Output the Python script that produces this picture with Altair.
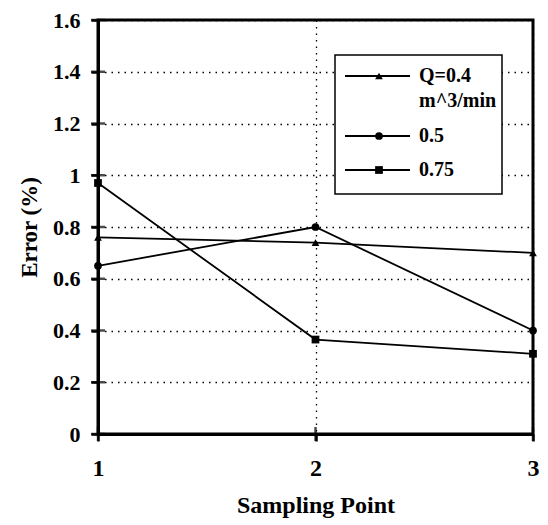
import altair as alt
import pandas as pd

# ---- data ----
sampling_point = [1, 2, 3]
q_040 = [0.76, 0.74, 0.70]
q_050 = [0.65, 0.80, 0.40]
q_075 = [0.97, 0.365, 0.31]
series_names = ["Q=0.4 m^3/min", "0.5", "0.75"]
series_shapes = ["triangle-up", "circle", "square"]
y_ticks = [0, 0.2, 0.4, 0.6, 0.8, 1.0, 1.2, 1.4, 1.6]
x_ticks = [1.0, 2.0, 3.0]

rows = []
for name, vals in zip(series_names, [q_040, q_050, q_075]):
    for xv, yv in zip(sampling_point, vals):
        rows.append({"x": float(xv), "y": yv, "series": name})
df = pd.DataFrame(rows)

FONT = "Liberation Serif"
W, H = 435, 414

x_axis = alt.Axis(tickCount=2, title="Sampling Point",
                  labelFont=FONT, labelFontWeight="bold", labelFontSize=24,
                  titleFont=FONT, titleFontWeight="bold", titleFontSize=24,
                  labelPadding=15, titlePadding=13, tickSize=7, tickWidth=2.5,
                  labelOverlap=False, labelFlush=False, labelBound=False,
                  tickColor="black", domainColor="black", domainWidth=3,
                  labelColor="black", titleColor="black",
                  grid=True, gridColor="black", gridDash=[1.5, 5], gridWidth=1.3)
y_axis = alt.Axis(values=y_ticks, format="~g", title="Error (%)",
                  labelFont=FONT, labelFontWeight="bold", labelFontSize=22,
                  titleFont=FONT, titleFontWeight="bold", titleFontSize=23,
                  labelPadding=11, titlePadding=11, tickSize=7, tickWidth=2.5,
                  labelOverlap=False, labelFlush=False,
                  tickColor="black", domainColor="black", domainWidth=3,
                  labelColor="black", titleColor="black",
                  grid=True, gridColor="black", gridDash=[1.5, 5], gridWidth=1.3)
x_scale = alt.Scale(domain=[1, 3], nice=False, zero=False)
y_scale = alt.Scale(domain=[0, 1.6], nice=False)

shape_scale = alt.Scale(domain=series_names, range=series_shapes)

lines = alt.Chart(df).mark_line(color="black", strokeWidth=1.8).encode(
    x=alt.X("x:Q", scale=x_scale, axis=x_axis),
    y=alt.Y("y:Q", scale=y_scale, axis=y_axis),
    detail="series:N")
points = alt.Chart(df).mark_point(filled=True, color="black", opacity=1, size=60).encode(
    x=alt.X("x:Q", scale=x_scale, axis=x_axis),
    y=alt.Y("y:Q", scale=y_scale, axis=y_axis),
    shape=alt.Shape("series:N", scale=shape_scale, legend=None))

# crossing ticks inside the axes
ytick_df = pd.DataFrame({"y": y_ticks})
yticks_in = alt.Chart(ytick_df).mark_tick(color="black", thickness=2.5, size=14, orient="horizontal").encode(
    y=alt.Y("y:Q", scale=y_scale, axis=y_axis), x=alt.value(0))
xtick_df = pd.DataFrame({"x": x_ticks})
xticks_in = alt.Chart(xtick_df).mark_tick(color="black", thickness=2.5, size=14, orient="vertical").encode(
    x=alt.X("x:Q", scale=x_scale, axis=x_axis), y=alt.value(H))

# ---- manual legend ----
one = pd.DataFrame({"k": [0]})
leg_box = alt.Chart(one).mark_rect(fill="white", stroke="black", strokeWidth=1.5).encode(
    x=alt.value(237), x2=alt.value(404), y=alt.value(35), y2=alt.value(174))
legend_layers = [leg_box]
row_y = [56, 116, 150]
labels = [["Q=0.4", "m^3/min"], ["0.5"], ["0.75"]]
for ry, shp, lab in zip(row_y, series_shapes, labels):
    legend_layers.append(alt.Chart(one).mark_rule(color="black", strokeWidth=1.8).encode(
        x=alt.value(247), x2=alt.value(312), y=alt.value(ry)))
    legend_layers.append(alt.Chart(one).mark_point(shape=shp, filled=True, color="black",
                                                   opacity=1, size=60).encode(
        x=alt.value(281), y=alt.value(ry)))
    for i, t in enumerate(lab):
        legend_layers.append(alt.Chart(pd.DataFrame({"t": [t]})).mark_text(
            font=FONT, fontWeight="bold", fontSize=20, align="left", baseline="middle",
            color="black").encode(x=alt.value(321), y=alt.value(ry + 25 * i), text="t:N"))

chart = alt.layer(lines, yticks_in, xticks_in, points, *legend_layers).properties(
    width=W, height=H,
    autosize=alt.AutoSizeParams(type="none"),
    padding={"left": 90, "top": 12, "right": 7, "bottom": 90},
    background="white",
).configure_view(stroke="black", strokeWidth=3)

chart.save("out.html", embed_options={"renderer": "svg", "actions": False})
